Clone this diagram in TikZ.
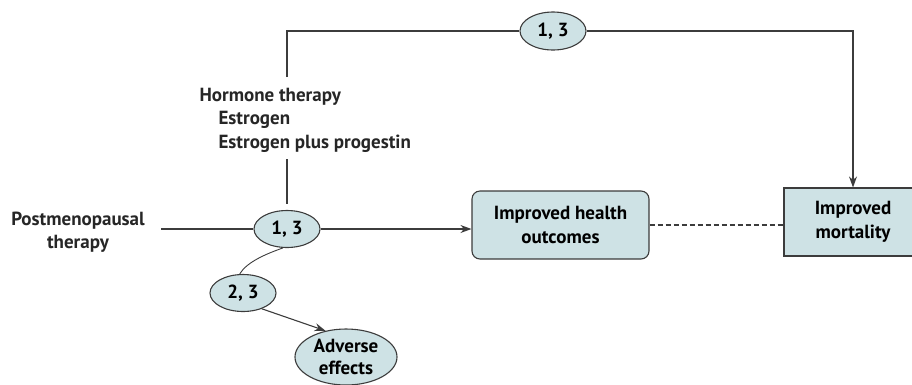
\documentclass[tikz,border=0pt]{standalone}
\usepackage{fontspec}
\setmainfont{PT Sans}
\usetikzlibrary{shapes.geometric,arrows.meta}

\definecolor{kqfill}{RGB}{206,226,229}
\definecolor{kqline}{RGB}{60,60,60}

\tikzset{
  kq/.style={ellipse, draw=kqline, fill=kqfill, line width=1.1pt,
    minimum width=66pt, minimum height=37pt, inner sep=0pt,
    font=\fontsize{19}{22}\selectfont\bfseries},
  outcome/.style={draw=kqline, fill=kqfill, line width=1.1pt, align=center,
    font=\fontsize{19}{23.5}\selectfont\bfseries},
  plain/.style={align=center, font=\fontsize{19}{23.5}\selectfont\bfseries,
    text=black!85},
  link/.style={draw=kqline, line width=1.1pt}
}

\begin{document}
\begin{tikzpicture}[x=1pt,y=-1pt,>={Stealth[length=11pt,width=8pt]}]
    \useasboundingbox (0,0) rectangle (912,384);
    \clip (0,0) rectangle (912,384);

    % Setup the text and the key question ellipses:
    \node [plain] (post) at (78,232) {Postmenopausal\\therapy};
    \node [plain, align=left, anchor=west] (hormone) at (196,120)
        {Hormone therapy\\\hspace*{19pt}Estrogen\\\hspace*{19pt}Estrogen plus progestin};

    \node [kq] (kq one)   at (287,229) {1, 3};
    \node [kq] (kq two)   at (243,293) {2, 3};
    \node [kq, minimum height=38pt] (kq top) at (553,31) {1, 3};
    \node [kq, minimum width=102pt, minimum height=56pt, align=center,
        font=\fontsize{19}{22}\selectfont\bfseries] (adverse) at (346,357)
        {Adverse\\effects};

    % The outcome boxes
    \node [outcome, rounded corners=8pt, minimum width=177pt, minimum height=68pt]
        (health) at (560.5,225) {Improved health\\outcomes};
    \node [outcome, minimum width=138pt, minimum height=68pt]
        (mortality) at (853,222) {Improved\\mortality};

    % Free ends of the lines
    \coordinate (post end)   at (161,229);
    \coordinate (hor top)    at (287,77);
    \coordinate (hor bottom) at (287,159);
    \coordinate (top left)   at (287,31);
    \coordinate (top right)  at (853,31);

    % Draw the main chain
    \draw [link] (post end) -- (kq one.west);
    \draw [link,->] (kq one.east) -- (kq one.east -| health.west);
    \draw [link, dashed, dash pattern=on 5pt off 3pt]
        (health.east) -- (health.east -| mortality.west);

    % The hormone therapy lines
    \draw [link, shorten >=6pt] (hor bottom) -- (kq one.north);
    \draw [link] (hor top) -- (top left) -- (kq top.west);
    \draw [link,->] (kq top.east) -- (top right) -- (mortality.north);

    % Adverse effects
    \draw [link, line width=0.9pt] (kq one.258)
        .. controls +(-17,6) and +(7,-12) .. (kq two.100);
    \draw [link,->] (kq two.-40) -- (adverse.128);
\end{tikzpicture}
\end{document}
